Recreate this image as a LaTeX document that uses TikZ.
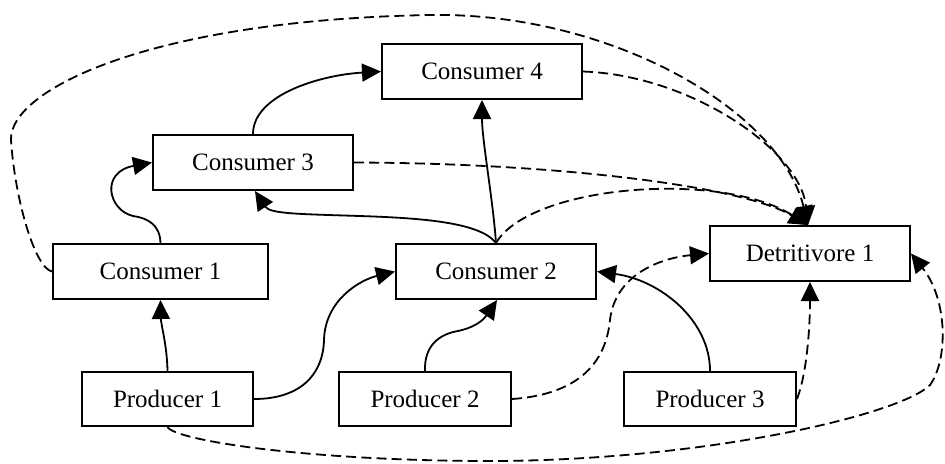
\documentclass[tikz,border=0pt]{standalone}
\usepackage{fontspec}
\setmainfont{Liberation Serif}
\usetikzlibrary{arrows.meta,calc}

\tikzset{
  box/.style={draw, line width=1pt, rectangle, minimum height=27.5pt,
              inner sep=0pt, font=\fontsize{12.5}{15}\selectfont},
  feed/.style={line width=0.9pt, -{Triangle[length=9.5pt,width=9pt]}},
  decay/.style={feed, dash pattern=on 5pt off 2.6pt},
}

\begin{document}
\begin{tikzpicture}[x=0.5pt, y=-0.5pt]
\useasboundingbox (0,0) rectangle (945,463);

% organisms
\node[box, minimum width=100pt]  (c4) at (482,71.5)   {Consumer 4};
\node[box, minimum width=100pt]  (c3) at (253,162.5)  {Consumer 3};
\node[box, minimum width=107.5pt](c1) at (160.5,271.5){Consumer 1};
\node[box, minimum width=100pt]  (c2) at (496,271.5)  {Consumer 2};
\node[box, minimum width=100pt]  (d1) at (810,253.5)  {Detritivore 1};
\node[box, minimum width=85.5pt, minimum height=27pt] (p1) at (167.5,399) {Producer 1};
\node[box, minimum width=86pt,   minimum height=27pt] (p2) at (425,399)   {Producer 2};
\node[box, minimum width=86pt,   minimum height=27pt] (p3) at (710,399)   {Producer 3};

\coordinate (dtop) at (808,225);

% feeding links
\draw[feed] (p1.north) .. controls (167,345) and (161,325) .. (c1.south);
\draw[feed] (p1.east) .. controls (300,399) and (323,375) .. (324,340)
            .. controls (325,300) and (360,280) .. (c2.west);
\draw[feed] (c1.north) .. controls (160,225) and (148,218) .. (133,216)
            .. controls (108,210) and (100,172) .. (c3.west);
\draw[feed] (c3.north) .. controls (253,95) and (320,75) .. (c4.west);
\draw[feed] (c2.north) .. controls (480,222) and (420,218) .. (360,216)
            .. controls (300,214) and (270,214) .. ($(c3.south)+(2,0)$);
\draw[feed] (c2.north) .. controls (493,200) and (482,140) .. (c4.south);
\draw[feed] (p2.north) .. controls (424,345) and (440,334) .. (458,331)
            .. controls (472,328) and (482,322) .. ($(c2.south)+(1,0)$);
\draw[feed] (p3.north) .. controls (710,320) and (660,280) .. (c2.east);

% decomposition links
\draw[decay] (c1.west) .. controls (35,268) and (15,200) .. (11,140)
             .. controls (9,90) and (150,20) .. (430,15)
             .. controls (610,12) and (780,110) .. (dtop);
\draw[decay] (c4.east) .. controls (690,75) and (800,150) .. (dtop);
\draw[decay] (c3.east) .. controls (550,163) and (740,185) .. (dtop);
\draw[decay] (c2.north) .. controls (530,185) and (720,170) .. (dtop);
\draw[decay] (p2.east) .. controls (570,395) and (605,370) .. (610,320)
             .. controls (615,275) and (660,258) .. (d1.west);
\draw[decay] (p3.east) .. controls (808,370) and (810,320) .. (d1.south);
\draw[decay] (p1.south) .. controls (175,440) and (300,460) .. (480,461)
             .. controls (700,462) and (900,415) .. (930,385)
             .. controls (948,360) and (948,300) .. (d1.east);
\end{tikzpicture}
\end{document}
